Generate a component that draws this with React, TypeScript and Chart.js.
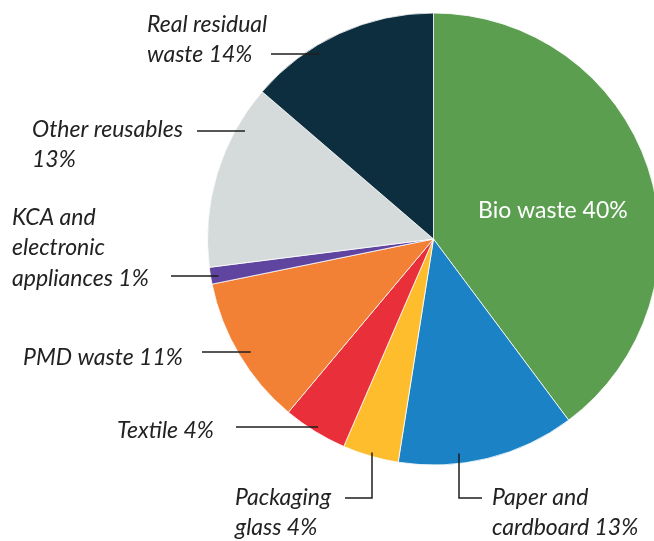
import React, { useEffect, useRef } from "react";
import { Chart, registerables } from "chart.js";

Chart.register(...registerables);

const categories = [
  "Bio waste",
  "Paper and cardboard",
  "Packaging glass",
  "Textile",
  "PMD waste",
  "KCA and electronic appliances",
  "Other reusables",
  "Real residual waste",
];
const values = [39.8, 12.7, 4.0, 4.6, 10.7, 1.2, 13.3, 13.7];
// percentages as printed on the labels
const labelPercents = [40, 13, 4, 4, 11, 1, 13, 14];
const colors = [
  "#5b9e50",
  "#1b82c5",
  "#fdbd2c",
  "#e9303a",
  "#f28035",
  "#5f44a0",
  "#d5dada",
  "#0c2e3e",
];

// label layout: wrapped text ({v} = printed percent), text x, baselines, leader spec
type Leader =
  | { kind: "h"; y: number; x0: number; inset: number }
  | { kind: "v"; y: number; x0: number; x1: number; inset: number };
interface LabelLayout {
  lines: string[];
  x: number;
  baselines: number[];
  leader?: Leader;
  inside?: boolean;
}
const labelLayout: LabelLayout[] = [
  { lines: ["Bio waste {v}%"], x: 478, baselines: [218], inside: true },
  {
    lines: ["Paper and", "cardboard {v}%"],
    x: 492,
    baselines: [505, 535],
    leader: { kind: "v", y: 498, x0: 482, x1: 459, inset: 10 },
  },
  {
    lines: ["Packaging", "glass {v}%"],
    x: 235,
    baselines: [505, 535],
    leader: { kind: "v", y: 498, x0: 345, x1: 372, inset: 4 },
  },
  {
    lines: ["Textile {v}%"],
    x: 117,
    baselines: [438],
    leader: { kind: "h", y: 427, x0: 236, inset: 10 },
  },
  {
    lines: ["PMD waste {v}%"],
    x: 23,
    baselines: [365],
    leader: { kind: "h", y: 352, x0: 202, inset: 13 },
  },
  {
    lines: ["KCA and", "electronic", "appliances {v}%"],
    x: 12,
    baselines: [225, 255, 286],
    leader: { kind: "h", y: 276, x0: 171, inset: 8 },
  },
  {
    lines: ["Other reusables", "{v}%"],
    x: 32,
    baselines: [137, 167],
    leader: { kind: "h", y: 131, x0: 197, inset: 10 },
  },
  {
    lines: ["Real residual", "waste {v}%"],
    x: 147,
    baselines: [32, 62],
    leader: { kind: "h", y: 54, x0: 271, inset: 16 },
  },
];

const labelPlugin = {
  id: "wasteLabels",
  afterDraw(chart: any) {
    const ctx = chart.ctx as CanvasRenderingContext2D;
    const meta = chart.getDatasetMeta(0);
    const arc = meta.data[0];
    if (!arc) return;
    const cx = arc.x;
    const cy = arc.y;
    const R = arc.outerRadius;
    ctx.save();
    labelLayout.forEach((lab, i) => {
      const v = labelPercents[i];
      if (lab.leader) {
        const L = lab.leader;
        ctx.strokeStyle = "#1e1e1e";
        ctx.lineWidth = 1.5;
        ctx.beginPath();
        if (L.kind === "h") {
          const dy = L.y - cy;
          const edge = cx - Math.sqrt(Math.max(R * R - dy * dy, 0));
          ctx.moveTo(L.x0, L.y);
          ctx.lineTo(edge + L.inset, L.y);
        } else {
          const dx = L.x1 - cx;
          const edge = cy + Math.sqrt(Math.max(R * R - dx * dx, 0));
          ctx.moveTo(L.x0, L.y);
          ctx.lineTo(L.x1, L.y);
          ctx.lineTo(L.x1, edge - L.inset);
        }
        ctx.stroke();
      }
      ctx.textBaseline = "alphabetic";
      ctx.textAlign = "left";
      if (lab.inside) {
        ctx.fillStyle = "#ffffff";
        ctx.font = '23px Lato, "Open Sans", sans-serif';
      } else {
        ctx.fillStyle = "#232121";
        ctx.font = 'italic 23px Lato, "Open Sans", sans-serif';
      }
      lab.lines.forEach((ln, k) => {
        ctx.fillText(ln.replace("{v}", String(v)), lab.x, lab.baselines[k]);
      });
    });
    ctx.restore();
  },
};

export default function App() {
  const ref = useRef<HTMLCanvasElement>(null);
  useEffect(() => {
    if (!ref.current) return;
    const chart = new Chart(ref.current, {
      type: "pie",
      data: {
        labels: categories,
        datasets: [
          {
            data: values,
            backgroundColor: colors,
            borderColor: "#ffffff",
            borderWidth: 0.8,
            radius: 226,
            clip: false,
          } as any,
        ],
      },
      options: {
        responsive: false,
        animation: false,
        devicePixelRatio: 1,
        layout: { padding: { left: 213, right: 0, top: 0, bottom: 63 } },
        plugins: {
          legend: { display: false },
          tooltip: { enabled: false },
        },
      },
      plugins: [labelPlugin],
    });
    return () => chart.destroy();
  }, []);
  return (
    <div
      style={{
        position: "absolute",
        left: 0,
        top: 0,
        width: 654,
        height: 541,
        overflow: "hidden",
        background: "#ffffff",
      }}
    >
      <canvas ref={ref} width={654} height={541} />
    </div>
  );
}
